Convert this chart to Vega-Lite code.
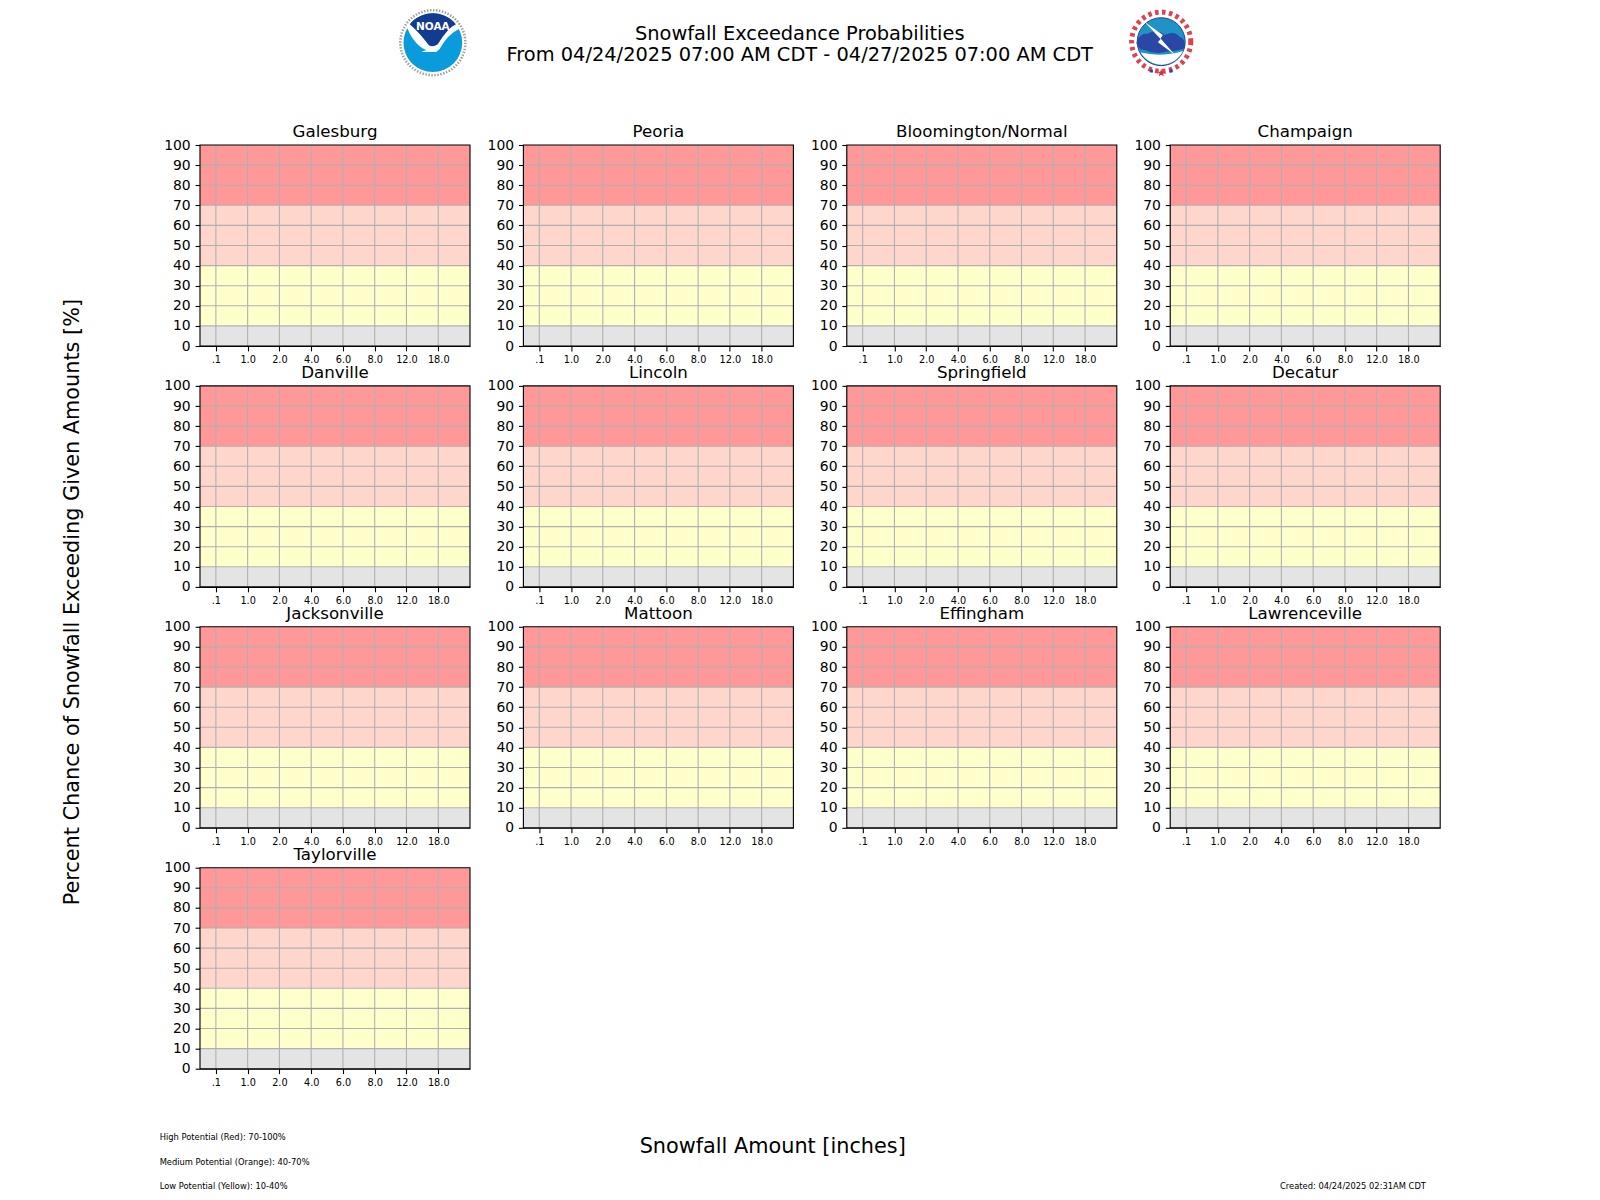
{
"$schema":"https://vega.github.io/schema/vega-lite/v6.json",
"background":"white",
"padding":{"left":62,"top":1,"right":0,"bottom":0},
"bounds":"flush",
"columns":4,
"spacing":{"column":53.4,"row":39.9},
"config":{"view":{"stroke":null},"font":"DejaVu Sans","axis":{"grid":false,"domainColor":"black","domainWidth":1.1,"tickColor":"black","tickWidth":1.1,"tickSize":4.9,"labelColor":"black","labelFont":"DejaVu Sans","title":null,"zindex":1,"labelOverlap":false,"labelFlush":false}},
"data":{"values":[
{"city":"Galesburg","band":"None","low":0,"high":10},{"city":"Galesburg","band":"Low","low":10,"high":40},{"city":"Galesburg","band":"Medium","low":40,"high":70},{"city":"Galesburg","band":"High","low":70,"high":100},
{"city":"Peoria","band":"None","low":0,"high":10},{"city":"Peoria","band":"Low","low":10,"high":40},{"city":"Peoria","band":"Medium","low":40,"high":70},{"city":"Peoria","band":"High","low":70,"high":100},
{"city":"Bloomington/Normal","band":"None","low":0,"high":10},{"city":"Bloomington/Normal","band":"Low","low":10,"high":40},{"city":"Bloomington/Normal","band":"Medium","low":40,"high":70},{"city":"Bloomington/Normal","band":"High","low":70,"high":100},
{"city":"Champaign","band":"None","low":0,"high":10},{"city":"Champaign","band":"Low","low":10,"high":40},{"city":"Champaign","band":"Medium","low":40,"high":70},{"city":"Champaign","band":"High","low":70,"high":100},
{"city":"Danville","band":"None","low":0,"high":10},{"city":"Danville","band":"Low","low":10,"high":40},{"city":"Danville","band":"Medium","low":40,"high":70},{"city":"Danville","band":"High","low":70,"high":100},
{"city":"Lincoln","band":"None","low":0,"high":10},{"city":"Lincoln","band":"Low","low":10,"high":40},{"city":"Lincoln","band":"Medium","low":40,"high":70},{"city":"Lincoln","band":"High","low":70,"high":100},
{"city":"Springfield","band":"None","low":0,"high":10},{"city":"Springfield","band":"Low","low":10,"high":40},{"city":"Springfield","band":"Medium","low":40,"high":70},{"city":"Springfield","band":"High","low":70,"high":100},
{"city":"Decatur","band":"None","low":0,"high":10},{"city":"Decatur","band":"Low","low":10,"high":40},{"city":"Decatur","band":"Medium","low":40,"high":70},{"city":"Decatur","band":"High","low":70,"high":100},
{"city":"Jacksonville","band":"None","low":0,"high":10},{"city":"Jacksonville","band":"Low","low":10,"high":40},{"city":"Jacksonville","band":"Medium","low":40,"high":70},{"city":"Jacksonville","band":"High","low":70,"high":100},
{"city":"Mattoon","band":"None","low":0,"high":10},{"city":"Mattoon","band":"Low","low":10,"high":40},{"city":"Mattoon","band":"Medium","low":40,"high":70},{"city":"Mattoon","band":"High","low":70,"high":100},
{"city":"Effingham","band":"None","low":0,"high":10},{"city":"Effingham","band":"Low","low":10,"high":40},{"city":"Effingham","band":"Medium","low":40,"high":70},{"city":"Effingham","band":"High","low":70,"high":100},
{"city":"Lawrenceville","band":"None","low":0,"high":10},{"city":"Lawrenceville","band":"Low","low":10,"high":40},{"city":"Lawrenceville","band":"Medium","low":40,"high":70},{"city":"Lawrenceville","band":"High","low":70,"high":100},
{"city":"Taylorville","band":"None","low":0,"high":10},{"city":"Taylorville","band":"Low","low":10,"high":40},{"city":"Taylorville","band":"Medium","low":40,"high":70},{"city":"Taylorville","band":"High","low":70,"high":100}
]},
"facet":{"field":"city","type":"nominal","sort":["Galesburg","Peoria","Bloomington/Normal","Champaign","Danville","Lincoln","Springfield","Decatur","Jacksonville","Mattoon","Effingham","Lawrenceville","Taylorville"],"header":{"title":null,"labels":false,"labelExpr":"''","labelFontSize":1,"labelPadding":0}},
"resolve":{"axis":{"x":"independent","y":"independent"}},
"spec":{
"width":270,"height":201,
"layer":[
{"mark":{"type":"rect"},
 "encoding":{
  "x":{"datum":-0.5,"type":"quantitative","scale":{"domain":[-0.5,8],"nice":false,"zero":false},"axis":{"values":[0,1,2,3,4,5,6,7],"tickCount":8,"labelOverlap":false,"labelFontSize":9.72,"labelPadding":3.6,"labelExpr":"['.1','1.0','2.0','4.0','6.0','8.0','12.0','18.0'][datum.value]"}},
  "x2":{"datum":8},
  "y":{"field":"low","type":"quantitative","scale":{"domain":[0,100],"nice":false,"zero":false},"axis":{"values":[0,10,20,30,40,50,60,70,80,90,100],"tickCount":11,"labelOverlap":false,"labelFontSize":13.9,"labelPadding":4.9}},
  "y2":{"field":"high"},
  "color":{"field":"band","type":"nominal","legend":null,"scale":{"domain":["High","Medium","Low","None"],"range":["#ff9999","#ffd6cc","#ffffcc","#e4e4e4"]}}
 }},
{"transform":[{"filter":"datum.band=='High'"}],"mark":{"type":"rule","color":"#b0b0b0","strokeWidth":1.1},"encoding":{"x":{"datum":0,"type":"quantitative"}}},
{"transform":[{"filter":"datum.band=='High'"}],"mark":{"type":"rule","color":"#b0b0b0","strokeWidth":1.1},"encoding":{"x":{"datum":1,"type":"quantitative"}}},
{"transform":[{"filter":"datum.band=='High'"}],"mark":{"type":"rule","color":"#b0b0b0","strokeWidth":1.1},"encoding":{"x":{"datum":2,"type":"quantitative"}}},
{"transform":[{"filter":"datum.band=='High'"}],"mark":{"type":"rule","color":"#b0b0b0","strokeWidth":1.1},"encoding":{"x":{"datum":3,"type":"quantitative"}}},
{"transform":[{"filter":"datum.band=='High'"}],"mark":{"type":"rule","color":"#b0b0b0","strokeWidth":1.1},"encoding":{"x":{"datum":4,"type":"quantitative"}}},
{"transform":[{"filter":"datum.band=='High'"}],"mark":{"type":"rule","color":"#b0b0b0","strokeWidth":1.1},"encoding":{"x":{"datum":5,"type":"quantitative"}}},
{"transform":[{"filter":"datum.band=='High'"}],"mark":{"type":"rule","color":"#b0b0b0","strokeWidth":1.1},"encoding":{"x":{"datum":6,"type":"quantitative"}}},
{"transform":[{"filter":"datum.band=='High'"}],"mark":{"type":"rule","color":"#b0b0b0","strokeWidth":1.1},"encoding":{"x":{"datum":7,"type":"quantitative"}}},
{"transform":[{"filter":"datum.band=='High'"}],"mark":{"type":"rule","color":"#b0b0b0","strokeWidth":1.1},"encoding":{"y":{"datum":10,"type":"quantitative"}}},
{"transform":[{"filter":"datum.band=='High'"}],"mark":{"type":"rule","color":"#b0b0b0","strokeWidth":1.1},"encoding":{"y":{"datum":20,"type":"quantitative"}}},
{"transform":[{"filter":"datum.band=='High'"}],"mark":{"type":"rule","color":"#b0b0b0","strokeWidth":1.1},"encoding":{"y":{"datum":30,"type":"quantitative"}}},
{"transform":[{"filter":"datum.band=='High'"}],"mark":{"type":"rule","color":"#b0b0b0","strokeWidth":1.1},"encoding":{"y":{"datum":40,"type":"quantitative"}}},
{"transform":[{"filter":"datum.band=='High'"}],"mark":{"type":"rule","color":"#b0b0b0","strokeWidth":1.1},"encoding":{"y":{"datum":50,"type":"quantitative"}}},
{"transform":[{"filter":"datum.band=='High'"}],"mark":{"type":"rule","color":"#b0b0b0","strokeWidth":1.1},"encoding":{"y":{"datum":60,"type":"quantitative"}}},
{"transform":[{"filter":"datum.band=='High'"}],"mark":{"type":"rule","color":"#b0b0b0","strokeWidth":1.1},"encoding":{"y":{"datum":70,"type":"quantitative"}}},
{"transform":[{"filter":"datum.band=='High'"}],"mark":{"type":"rule","color":"#b0b0b0","strokeWidth":1.1},"encoding":{"y":{"datum":80,"type":"quantitative"}}},
{"transform":[{"filter":"datum.band=='High'"}],"mark":{"type":"rule","color":"#b0b0b0","strokeWidth":1.1},"encoding":{"y":{"datum":90,"type":"quantitative"}}},
{"transform":[{"filter":"datum.band=='High'"}],
 "mark":{"type":"rect","fill":null,"stroke":"black","strokeWidth":1.1},
 "encoding":{"x":{"datum":-0.5,"type":"quantitative"},"x2":{"datum":8},"y":{"datum":0,"type":"quantitative"},"y2":{"datum":100}}},
{"transform":[{"filter":"datum.band=='High'"}],
 "mark":{"type":"text","fontSize":16.67,"color":"black","align":"center","baseline":"alphabetic","dy":-8},
 "encoding":{"text":{"field":"city"},"x":{"datum":3.75,"type":"quantitative"},"y":{"datum":100,"type":"quantitative"}}},
{"transform":[{"filter":"datum.city=='Galesburg' && datum.band=='High'"}],
 "mark":{"type":"text","text":["Snowfall Exceedance Probabilities","From 04/24/2025 07:00 AM CDT - 04/27/2025 07:00 AM CDT"],"fontSize":19.4,"lineHeight":20.9,"color":"black","align":"center","baseline":"middle"},
 "encoding":{"x":{"datum":18.38,"type":"quantitative"},"y":{"datum":155.1,"type":"quantitative"}}},
{"transform":[{"filter":"datum.city=='Danville' && datum.band=='High'"}],
 "mark":{"type":"text","text":"Percent Chance of Snowfall Exceeding Given Amounts [%]","angle":270,"fontSize":20.8,"color":"black","align":"center","baseline":"middle"},
 "encoding":{"x":{"datum":-4.49,"type":"quantitative"},"y":{"datum":-7.6,"type":"quantitative"}}},
{"transform":[{"filter":"datum.city=='Taylorville' && datum.band=='High'"}],
 "mark":{"type":"text","text":"Snowfall Amount [inches]","fontSize":20.8,"color":"black","align":"center","baseline":"middle"},
 "encoding":{"x":{"datum":17.53,"type":"quantitative"},"y":{"datum":-39.2,"type":"quantitative"}}},
{"transform":[{"filter":"datum.city=='Taylorville' && datum.band=='High'"}],
 "mark":{"type":"text","text":"High Potential (Red): 70-100%","fontSize":8.33,"color":"black","align":"left","baseline":"middle"},
 "encoding":{"x":{"datum":-1.77,"type":"quantitative"},"y":{"datum":-34.7,"type":"quantitative"}}},
{"transform":[{"filter":"datum.city=='Taylorville' && datum.band=='High'"}],
 "mark":{"type":"text","text":"Medium Potential (Orange): 40-70%","fontSize":8.33,"color":"black","align":"left","baseline":"middle"},
 "encoding":{"x":{"datum":-1.77,"type":"quantitative"},"y":{"datum":-47.1,"type":"quantitative"}}},
{"transform":[{"filter":"datum.city=='Taylorville' && datum.band=='High'"}],
 "mark":{"type":"text","text":"Low Potential (Yellow): 10-40%","fontSize":8.33,"color":"black","align":"left","baseline":"middle"},
 "encoding":{"x":{"datum":-1.77,"type":"quantitative"},"y":{"datum":-59.1,"type":"quantitative"}}},
{"transform":[{"filter":"datum.city=='Taylorville' && datum.band=='High'"}],
 "mark":{"type":"text","text":"Created: 04/24/2025 02:31AM CDT","fontSize":8.33,"color":"black","align":"left","baseline":"middle"},
 "encoding":{"x":{"datum":33.5,"type":"quantitative"},"y":{"datum":-59.1,"type":"quantitative"}}},
{"transform":[{"filter":"datum.city=='Galesburg' && datum.band=='High'"}],
 "encoding":{"x":{"datum":6.83,"type":"quantitative"},"y":{"datum":150.9,"type":"quantitative"}},
 "layer":[
  {"mark":{"type":"point","shape":"circle","size":4225,"filled":true,"fill":"white","stroke":"#a0a0a0","strokeWidth":2.5,"strokeDash":[1.5,1.5],"opacity":1}},
  {"mark":{"type":"point","shape":"circle","size":3450,"filled":true,"fill":"#0a9bdc","strokeWidth":0,"opacity":1}},
  {"mark":{"type":"point","shape":"M-.78,-.45 Q-.55,.1 -.2,.22 L-.35,.28 L.1,.28 L.2,.2 Q.45,-.25 .8,-.42 L.7,-.62 L-.7,-.62 Z","size":4356,"filled":true,"fill":"white","strokeWidth":0,"opacity":1}},
  {"mark":{"type":"point","shape":"M-.7,-.56 A.9,.9 0 0 1 .7,-.56 Q.45,-.45 .15,.05 Q0,.15 -.12,.08 Q-.4,-.3 -.7,-.56 Z","size":4356,"filled":true,"fill":"#133b8f","strokeWidth":0,"opacity":1}},
  {"mark":{"type":"text","text":"NOAA","fontSize":10.5,"fontWeight":"bold","color":"white","dy":-16,"align":"center","baseline":"middle"}}
 ]},
{"transform":[{"filter":"datum.city=='Galesburg' && datum.band=='High'"}],
 "encoding":{"x":{"datum":29.76,"type":"quantitative"},"y":{"datum":151.4,"type":"quantitative"}},
 "layer":[
  {"mark":{"type":"point","shape":"circle","size":3500,"filled":false,"fill":null,"stroke":"#dd2c3c","strokeWidth":5,"strokeDash":[3.5,3.5],"opacity":0.9}},
  {"mark":{"type":"point","shape":"circle","size":2300,"filled":true,"fill":"#1f93c6","stroke":"#1b4c96","strokeWidth":1,"opacity":1}},
  {"mark":{"type":"point","shape":"M-.62,.33 Q0,.48 .66,.28 A.72,.72 0 0 1 -.62,.33 Z","size":4356,"filled":true,"fill":"white","strokeWidth":0,"opacity":1}},
  {"mark":{"type":"point","shape":"M-.75,.05 Q-.7,-.25 -.4,-.25 Q-.1,-.4 .1,-.2 Q.4,-.35 .55,-.15 Q.75,-.1 .72,.2 Q.4,.3 .2,.3 Q-.2,.4 -.5,.25 Q-.7,.25 -.75,.05 Z","size":4356,"filled":true,"fill":"#2b47a5","strokeWidth":0,"opacity":1}},
  {"mark":{"type":"point","shape":"M-.5,-.6 L.05,-.2 L-.02,-.1 L.42,.4 L-.1,.02 L-.02,-.08 Z","size":4356,"filled":true,"fill":"white","strokeWidth":0,"opacity":1}},
  {"mark":{"type":"point","shape":"M0,.82 L.03,.91 L.12,.91 L.05,.96 L.08,1.05 L0,1 L-.08,1.05 L-.05,.96 L-.12,.91 L-.03,.91 Z","size":4356,"filled":true,"fill":"#dd2c3c","strokeWidth":0,"opacity":1}},
  {"mark":{"type":"point","shape":"M-.34,.84 h.09 v.09 h-.09 Z M.25,.84 h.09 v.09 h-.09 Z","size":4356,"filled":true,"fill":"#2b47a5","strokeWidth":0,"opacity":1}}
 ]}
]}
}
